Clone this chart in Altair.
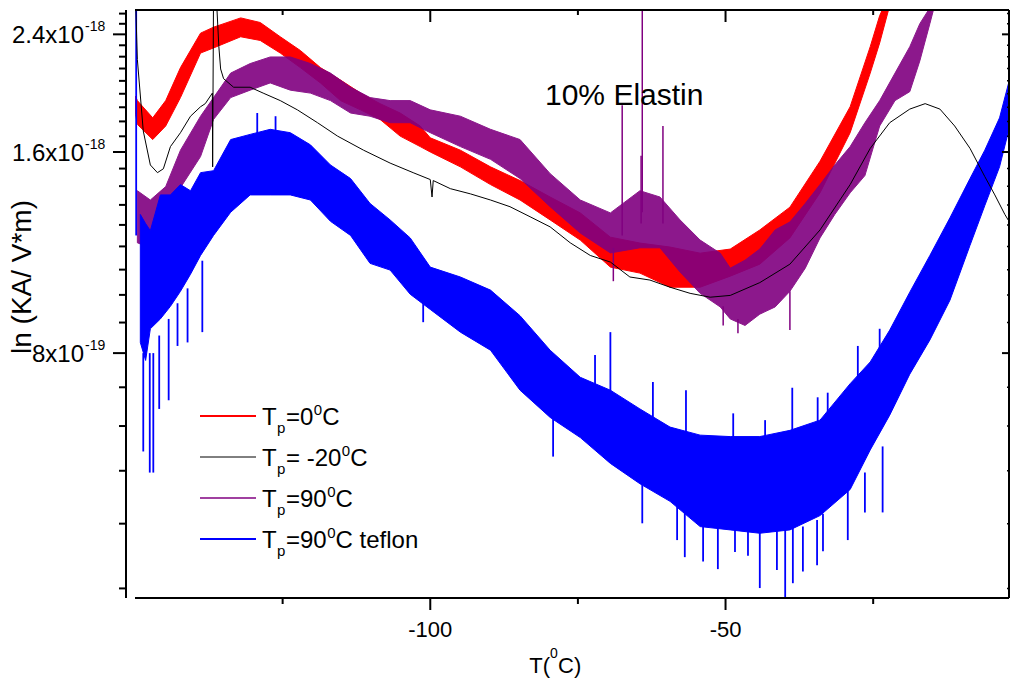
import altair as alt
import pandas as pd

UNIT = 1e-19          # y values below are given in units of 1e-19
W, H = 874, 588
FONT = "Liberation Sans"

# ---------------- data ----------------
red_x = [-149.9, -149.6, -147.0, -144.8, -142.3, -138.9, -136.7, -132.1, -128.8, -125.4, -122.0, -118.6,
         -115.2, -111.8, -108.5, -105.1, -101.7, -100.0, -94.9, -89.8, -84.8, -79.7, -74.6, -69.5, -64.5,
         -59.4, -54.3, -49.2, -44.2, -39.1, -34.0, -28.9, -25.5, -23.9, -22.3]
red_hi = [19.4, 19.1, 18.0, 19.1, 21.4, 24.1, 24.6, 25.4, 25.0, 23.8, 22.7, 21.4, 20.5, 19.6, 18.9, 18.3,
          17.5, 16.8, 16.1, 15.2, 14.5, 13.7, 12.97, 11.93, 11.69, 11.53, 11.29, 11.45, 12.23, 13.23, 15.5,
          18.7, 23.0, 25.6, 27.5]
red_lo = [18.2, 17.6, 16.7, 17.5, 19.3, 22.5, 22.9, 23.8, 23.5, 22.5, 21.4, 20.3, 19.1, 18.5, 17.9, 16.9,
          16.3, 16.0, 15.2, 14.3, 13.56, 12.66, 11.81, 10.76, 10.54, 10.04, 10.04, 10.43, 10.87, 11.9, 13.9,
          17.1, 21.0, 23.3, 26.3]

black_x = [-149.9, -149.6, -148.6, -147.4, -146.2, -145.2, -144.0, -142.3, -140.6, -138.9, -138.1, -136.9,
           -136.85, -136.7, -136.2, -135.8, -135.5, -135.0, -133.3, -130.5, -128.3, -125.4, -122.5, -119.1,
           -115.7, -111.3, -106.8, -102.9, -100.0, -99.7, -99.5, -96.6, -93.2, -89.8, -86.5, -83.1, -79.7,
           -76.3, -72.9, -69.5, -66.2, -62.8, -59.4, -56.0, -52.6, -49.2, -44.2, -39.1, -34.0, -28.9, -25.5,
           -22.2, -18.8, -16.2, -13.7, -11.2, -8.6, -6.1, -4.4, -2.7, -2.0]
black_y = [27.0, 22.0, 17.2, 15.3, 14.9, 15.1, 16.3, 17.1, 18.1, 18.7, 18.9, 19.6, 15.2, 28.0, 27.0, 23.0,
           21.3, 20.6, 20.0, 20.0, 19.6, 19.1, 18.5, 17.7, 16.9, 16.1, 15.4, 14.9, 14.55, 13.7, 14.5, 14.1,
           13.85, 13.56, 13.25, 12.8, 12.36, 11.7, 11.2, 10.95, 10.4, 10.29, 10.04, 9.83, 9.7, 9.76, 10.2,
           10.87, 12.23, 14.3, 16.2, 17.7, 18.55, 18.9, 18.55, 17.5, 16.2, 14.7, 13.8, 12.9, 12.6]

purple_x = [-149.6, -147.4, -144.8, -142.3, -138.9, -136.7, -133.8, -130.5, -127.1, -123.7, -120.3, -116.9,
            -113.5, -110.2, -106.8, -103.4, -100.0, -94.9, -89.8, -84.8, -79.7, -74.6, -69.5, -64.5, -61.1,
            -57.7, -54.3, -50.9, -49.2, -46.7, -44.2, -41.6, -39.1, -36.5, -34.0, -31.5, -28.9, -26.4,
            -23.9, -21.3, -18.8, -17.1, -15.4, -14.6]
purple_hi = [14.0, 13.56, 14.2, 16.1, 18.1, 19.3, 21.0, 21.7, 22.2, 22.2, 21.7, 21.0, 20.0, 19.3, 19.1, 19.1,
             18.5, 18.1, 17.3, 16.7, 14.85, 13.56, 12.97, 14.0, 13.7, 12.66, 11.81, 11.29, 10.72, 11.02,
             11.45, 12.23, 12.57, 13.4, 14.3, 15.3, 16.3, 17.7, 19.1, 21.0, 23.0, 24.9, 26.3, 27.5]
purple_lo = [11.7, 11.5, 12.8, 14.15, 15.75, 17.9, 19.3, 19.8, 20.3, 19.8, 19.6, 19.1, 18.3, 18.1, 17.7,
             17.7, 17.1, 16.3, 15.6, 14.6, 13.25, 12.1, 11.3, 11.5, 11.5, 10.58, 9.83, 9.38, 9.0, 8.8, 9.15,
             9.38, 9.9, 10.72, 11.9, 12.9, 13.9, 14.75, 17.5, 19.1, 19.7, 21.9, 24.9, 26.5]
purple_spk_x = [-69.0, -67.5, -64.3, -64.1, -60.6, -50.4, -47.9, -39.1]
purple_spk_a = [11.5, 12.0, 12.5, 13.0, 12.5, 9.4, 9.0, 9.9]
purple_spk_b = [10.25, 18.8, 15.8, 27.0, 17.5, 8.8, 8.57, 8.66]

blue_x = [-149.1, -148.2, -147.4, -145.7, -144.0, -142.3, -140.6, -138.9, -136.7, -133.8, -130.5, -127.1,
          -123.7, -120.3, -116.9, -113.5, -110.2, -106.8, -103.4, -100.0, -94.9, -89.8, -84.8, -79.7,
          -74.6, -69.5, -64.5, -59.4, -54.3, -49.2, -44.2, -39.1, -34.0, -28.9, -25.5, -22.2, -18.8,
          -15.4, -12.0, -8.6, -6.1, -3.6, -2.0]
blue_hi = [12.9, 12.5, 12.2, 13.8, 13.8, 14.3, 14.0, 14.9, 15.0, 16.7, 17.0, 17.3, 17.1, 16.4, 15.3, 14.6,
           13.4, 12.66, 11.9, 10.76, 10.4, 9.94, 9.1, 8.08, 7.36, 7.04, 6.6, 6.2, 6.03, 6.0, 6.0, 6.13,
           6.35, 7.2, 7.76, 8.66, 9.87, 11.2, 12.75, 14.6, 16.1, 18.0, 20.4]
blue_lo = [8.3, 7.8, 8.7, 9.0, 9.4, 9.9, 10.5, 11.2, 12.0, 13.0, 13.8, 13.8, 13.8, 13.56, 12.6, 12.0, 10.9,
           10.65, 9.8, 9.3, 8.6, 8.08, 7.04, 6.41, 5.98, 5.47, 5.1, 4.8, 4.4, 4.35, 4.3, 4.35, 4.57, 5.0,
           5.73, 6.46, 7.44, 8.37, 9.6, 11.6, 13.3, 15.2, 17.3]
blue_spk_x = [-149.8, -148.6, -147.5, -146.9, -145.9, -144.3, -142.8, -141.1, -138.6, -129.3, -126.2,
              -101.2, -79.2, -72.1, -69.5, -64.1, -62.3, -58.2, -56.9, -56.7, -53.8, -51.3, -48.7, -48.4,
              -46.2, -44.2, -43.3, -41.3, -39.9, -38.7, -38.6, -36.9, -34.5, -34.4, -33.5, -32.7, -29.3,
              -27.6, -26.4, -23.9, -23.4, -21.7]
blue_spk_a = [12.0, 8.0, 8.0, 8.0, 8.5, 9.0, 9.5, 10.0, 11.0, 16.0, 16.0, 9.5, 6.5, 7.0, 7.0, 5.2, 6.4,
              4.9, 4.7, 6.0, 4.5, 4.5, 5.9, 4.4, 4.4, 4.4, 5.9, 4.4, 4.4, 6.0, 4.4, 4.4, 4.5, 6.2, 4.6,
              6.3, 5.0, 7.0, 5.3, 7.6, 5.8, 8.2]
blue_spk_b = [27.0, 5.7, 5.3, 5.3, 6.6, 6.8, 8.2, 8.3, 8.6, 18.3, 18.1, 8.9, 5.6, 7.95, 8.6, 4.45, 7.24,
              4.2, 3.96, 7.04, 3.9, 3.8, 6.5, 4.03, 3.98, 3.56, 6.35, 3.79, 3.44, 7.1, 3.62, 3.77, 3.85,
              6.87, 4.04, 6.98, 4.2, 8.2, 4.62, 8.7, 4.62, 8.7]

x_major = [-100, -50]
x_minor = [-125, -75, -25]
y_major = [8e-19, 1.6e-18, 2.4e-18]
y_major_main = ["8x10", "1.6x10", "2.4x10"]
y_major_sup = ["-19", "-18", "-18"]
y_minor_k = [k for k in range(4, 30) if k not in (9, 18, 27)]   # minor ticks every 8e-19/9

legend_colors = ["#ff0000", "#000000", "#800080", "#0000ff"]
legend_widths = [2, 1, 1.5, 2]
legend_mid = ["=0", "= -20", "=90", "=90"]
legend_tail = ["C", "C", "C", "C teflon"]

# ---------------- scales & helpers ----------------
xs = alt.Scale(domain=[-150, -2], nice=False, zero=False)
ys = alt.Scale(type="log", domain=[3.44e-19, 2.61e-18], nice=False)


def X(f):
    return alt.X(f, type="quantitative", scale=xs, axis=None)


def Y(f):
    return alt.Y(f, type="quantitative", scale=ys, axis=None)


def band(xv, lo, hi, color, opacity=1.0):
    df = pd.DataFrame({"T": xv, "lo": [v * UNIT for v in lo], "hi": [v * UNIT for v in hi]})
    return alt.Chart(df).mark_area(color=color, opacity=opacity, clip=True, orient="vertical",
                                   stroke=color, strokeWidth=1).encode(x=X("T"), y=Y("lo"), y2="hi")


def spikes(xv, a, b, color, width=1.5):
    df = pd.DataFrame({"T": xv, "a": [v * UNIT for v in a], "b": [v * UNIT for v in b]})
    return alt.Chart(df).mark_rule(color=color, strokeWidth=width, clip=True).encode(
        x=X("T"), y=Y("a"), y2="b")


one = pd.DataFrame({"k": [0]})


def label(text, x, y, size, align="left", angle=0, baseline="alphabetic"):
    props = dict(text=text, font=FONT, fontSize=size, color="black", align=align, baseline=baseline)
    if angle:
        props["angle"] = angle
    return alt.Chart(one).mark_text(**props).encode(x=alt.value(x), y=alt.value(y))


def frame_rule(width=2, **enc):
    return alt.Chart(one).mark_rule(color="black", strokeWidth=width).encode(**enc)


# ---------------- series ----------------
red = band(red_x, red_lo, red_hi, "#ff0000")
purple = band(purple_x, purple_lo, purple_hi, "#800080", 0.9)
purple_sp = spikes(purple_spk_x, purple_spk_a, purple_spk_b, "#800080", 1.5)
blue = band(blue_x, blue_lo, blue_hi, "#0000ff")
blue_sp = spikes(blue_spk_x, blue_spk_a, blue_spk_b, "#0000ff", 1.8)
black_df = pd.DataFrame({"T": black_x, "v": [v * UNIT for v in black_y], "i": range(len(black_x))})
black = alt.Chart(black_df).mark_line(color="black", strokeWidth=1, clip=True).encode(
    x=X("T"), y=Y("v"), order="i:Q")

# ---------------- axes, ticks and frame (drawn through the shared scales) ----------------
xminor_df = pd.DataFrame({"T": x_minor})
xmajor_df = pd.DataFrame({"T": x_major, "lab": [str(v) for v in x_major]})
ymaj_df = pd.DataFrame({"v": y_major})
ymin_df = pd.DataFrame({"v": [k * 8e-19 / 9 for k in y_minor_k]})


def tick_rule(df, width=2, **enc):
    return alt.Chart(df).mark_rule(color="black", strokeWidth=width).encode(**enc)


axes = [
    frame_rule(x=alt.value(0), x2=alt.value(W), y=alt.value(H)),          # bottom axis
    frame_rule(x=alt.value(-9), y=alt.value(0), y2=alt.value(H)),         # left axis (offset)
    frame_rule(x=alt.value(0), x2=alt.value(W), y=alt.value(0)),          # top
    frame_rule(x=alt.value(W), y=alt.value(0), y2=alt.value(H)),          # right
    tick_rule(xmajor_df, x=X("T"), y=alt.value(H), y2=alt.value(H + 12)),
    tick_rule(xminor_df, x=X("T"), y=alt.value(H), y2=alt.value(H + 6)),
    tick_rule(xmajor_df, x=X("T"), y=alt.value(0), y2=alt.value(12)),
    tick_rule(xminor_df, x=X("T"), y=alt.value(0), y2=alt.value(5)),
    tick_rule(ymaj_df, y=Y("v"), x=alt.value(-9), x2=alt.value(-22)),
    tick_rule(ymin_df, y=Y("v"), x=alt.value(-9), x2=alt.value(-16)),
    tick_rule(ymaj_df, y=Y("v"), x=alt.value(W - 7), x2=alt.value(W)),
    tick_rule(ymin_df, 1.5, y=Y("v"), x=alt.value(W - 2), x2=alt.value(W)),
    alt.Chart(xmajor_df).mark_text(font=FONT, fontSize=22, color="black", align="center",
                                   baseline="alphabetic").encode(
        x=X("T"), y=alt.value(H + 39), text="lab:N"),
]

# y tick labels with superscript exponents
ylab_df = pd.DataFrame({"v": y_major, "m": y_major_main, "s": y_major_sup})
ylabels = [
    alt.Chart(ylab_df).mark_text(font=FONT, fontSize=24, color="black", align="right",
                                 baseline="alphabetic", dy=9).encode(
        y=Y("v"), x=alt.value(-51), text="m:N"),
    alt.Chart(ylab_df).mark_text(font=FONT, fontSize=14, color="black", align="left",
                                 baseline="alphabetic", dy=-3).encode(
        y=Y("v"), x=alt.value(-50), text="s:N"),
]

# titles and annotation
titles = [
    label("ln (KA/ V*m)", -112, 267, 28, align="center", angle=270, baseline="middle"),
    label("T(", 415, 663, 22, align="right"),
    label("0", 415, 648, 14),
    label("C)", 423, 663, 22),
    label("10% Elastin", 410, 95, 30),
]

# hand-built legend (subscript p, superscript 0)
ARIAL = {"=": 0.584, " ": 0.278, "-": 0.333, "0": 0.556, "2": 0.556, "9": 0.556}
legend = []
for r in range(4):
    ly = 406 + 41 * r
    legend.append(alt.Chart(one).mark_rule(color=legend_colors[r], strokeWidth=legend_widths[r]).encode(
        x=alt.value(65), x2=alt.value(121), y=alt.value(ly)))
    legend.append(label("T", 127, ly + 9, 24))
    legend.append(label("p", 142, ly + 17, 15))
    legend.append(label(legend_mid[r], 151, ly + 9, 24))
    sx = 151 + sum(ARIAL[c] for c in legend_mid[r]) * 24 + 0.5
    legend.append(label("0", sx, ly - 1, 15))
    legend.append(label(legend_tail[r], sx + 0.556 * 15, ly + 9, 24))

chart = alt.layer(
    red, purple, purple_sp, blue, blue_sp, black, *axes, *ylabels, *titles, *legend
).properties(
    width=W, height=H,
    padding={"left": 135, "top": 10, "right": 2, "bottom": 82},
    autosize=alt.AutoSizeParams(type="none"),
    background="white",
).configure_view(strokeWidth=0)

chart.save("out.html", embed_options={"renderer": "svg", "actions": False})
